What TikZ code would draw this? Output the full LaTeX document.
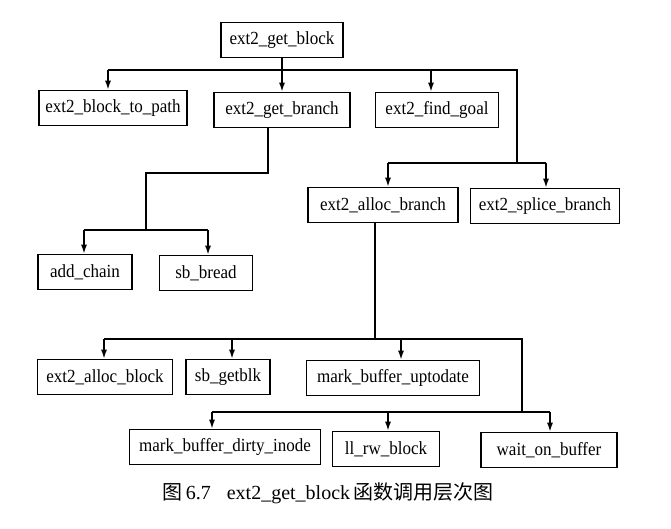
\documentclass[tikz,border=0pt]{standalone}
\usepackage{fontspec}
\setmainfont{Liberation Serif}
\newfontfamily\nodefont[FakeStretch=0.92]{Liberation Serif}
\newfontfamily\cjk{Noto Sans CJK SC}
\usetikzlibrary{arrows.meta}
\begin{document}
\begin{tikzpicture}[x=1pt,y=-1pt,
  fbox/.style={draw,line width=1.6pt,minimum height=35pt,inner sep=0pt,font=\nodefont\fontsize{18.5}{21}\selectfont},
  link/.style={line width=1.5pt},
  arr/.style={link,-{Latex[length=9pt,width=6pt]}}]
\useasboundingbox (0,0) rectangle (671,528);
% nodes
\node[fbox,minimum width=122pt] (gb)  at (282,40)  {ext2\_get\_block};
\node[fbox,minimum width=148pt] (b2p) at (113,108) {ext2\_block\_to\_path};
\node[fbox,minimum width=136pt] (gbr) at (282,110) {ext2\_get\_branch};
\node[fbox,minimum width=123pt] (fg)  at (437,110) {ext2\_find\_goal};
\node[fbox,minimum width=150pt] (ab)  at (383,205) {ext2\_alloc\_branch};
\node[fbox,minimum width=149pt] (sp)  at (545,206) {ext2\_splice\_branch};
\node[fbox,minimum width=94pt]  (ac)  at (85,272)  {add\_chain};
\node[fbox,minimum width=93pt]  (sb)  at (206,273) {sb\_bread};
\node[fbox,minimum width=135pt] (abl) at (105,377) {ext2\_alloc\_block};
\node[fbox,minimum width=84pt]  (sg)  at (228,377) {sb\_getblk};
\node[fbox,minimum width=173pt] (mu)  at (393,378) {mark\_buffer\_uptodate};
\node[fbox,minimum width=191pt] (md)  at (225,447) {mark\_buffer\_dirty\_inode};
\node[fbox,minimum width=107pt] (ll)  at (386,449) {ll\_rw\_block};
\node[fbox,minimum width=136pt] (wb)  at (549,450) {wait\_on\_buffer};
% junctions
\coordinate (j1)  at (282,70);
\coordinate (j1l) at (108,70);
\coordinate (j1f) at (431,70);
\coordinate (j1r) at (517,70);
\coordinate (j2)  at (517,163);
\coordinate (j2l) at (388,163);
\coordinate (j2r) at (546,163);
\coordinate (k1)  at (268,173);
\coordinate (k2)  at (146,173);
\coordinate (k3)  at (146,230);
\coordinate (k3l) at (84,230);
\coordinate (k3r) at (208,230);
\coordinate (m1)  at (375,339);
\coordinate (m1a) at (104,339);
\coordinate (m1b) at (232,339);
\coordinate (m1c) at (401,339);
\coordinate (m1r) at (522,339);
\coordinate (m2)  at (522,412);
\coordinate (m2a) at (212,412);
\coordinate (m2b) at (388,412);
\coordinate (m2c) at (550,412);
% connectors from ext2_get_block
\draw[link] (gb.south) -- (j1);
\draw[link] (j1l) -- (j1r) -- (j2);
\draw[arr] (j1l) -- (j1l |- b2p.north);
\draw[arr] (j1) -- (gbr.north);
\draw[arr] (j1f) -- (j1f |- fg.north);
\draw[link] (j2l) -- (j2r);
\draw[arr] (j2l) -- (j2l |- ab.north);
\draw[arr] (j2r) -- (j2r |- sp.north);
% connectors from ext2_get_branch
\draw[link] (k1 |- gbr.south) -- (k1) -- (k2) -- (k3);
\draw[link] (k3l) -- (k3r);
\draw[arr] (k3l) -- (k3l |- ac.north);
\draw[arr] (k3r) -- (k3r |- sb.north);
% connectors from ext2_alloc_branch
\draw[link] (m1 |- ab.south) -- (m1);
\draw[link] (m1a) -- (m1r) -- (m2);
\draw[arr] (m1a) -- (m1a |- abl.north);
\draw[arr] (m1b) -- (m1b |- sg.north);
\draw[arr] (m1c) -- (m1c |- mu.north);
\draw[link] (m2a) -- (m2c);
\draw[arr] (m2a) -- (m2a |- md.north);
\draw[arr] (m2b) -- (m2b |- ll.north);
\draw[arr] (m2c) -- (m2c |- wb.north);
% caption
\node[font=\fontsize{20}{24}\selectfont,inner sep=0pt] (cap) at (328,493)
  {{\cjk 图}\,6.7\hspace{16pt}ext2\_get\_block\,{\cjk 函数调用层次图}};
\end{tikzpicture}
\end{document}
